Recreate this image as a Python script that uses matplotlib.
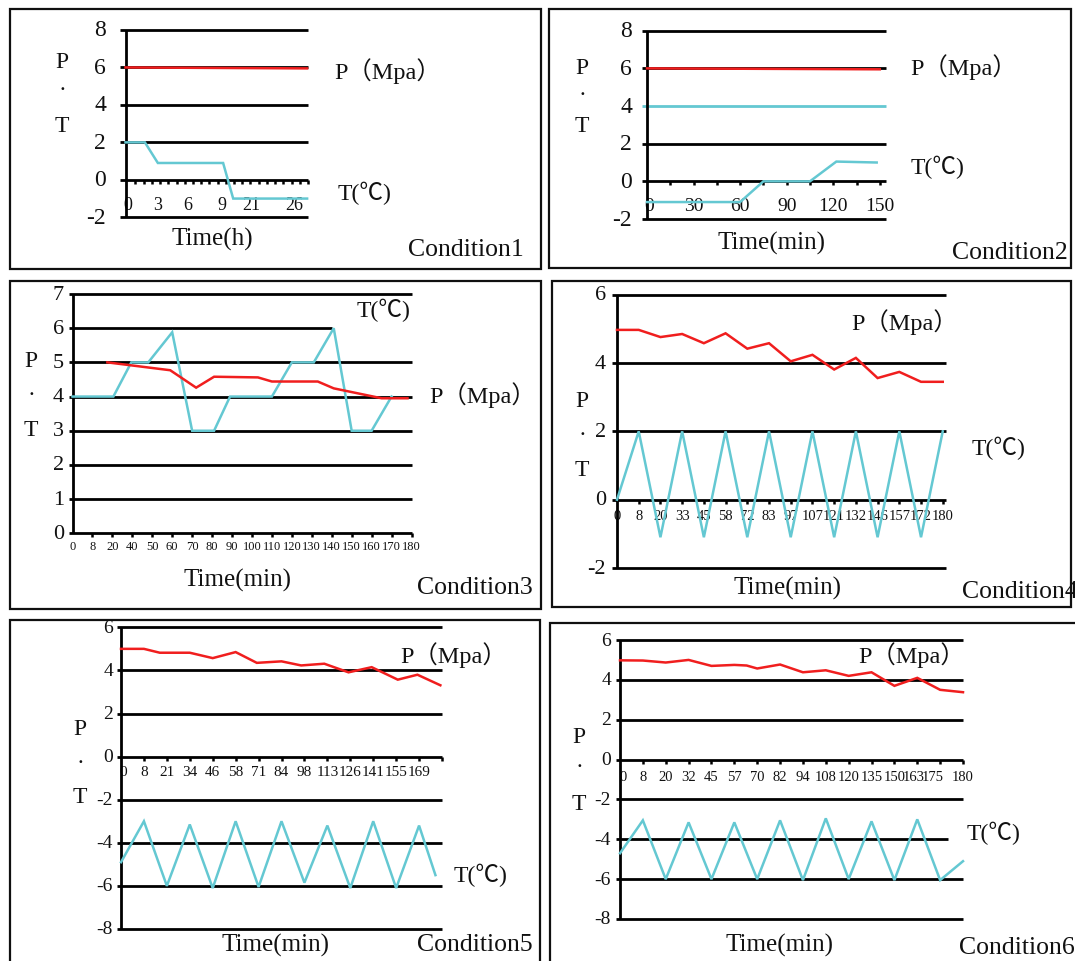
import numpy as np
import matplotlib
matplotlib.use("Agg")
import matplotlib.pyplot as plt
from matplotlib.patches import Rectangle
from matplotlib.transforms import offset_copy

# ---------------- data ----------------
# Condition 1 (time in hours)
c1_ticks = [0, 3, 6, 9, 21, 26]
c1_time_p = [0, 27.4]
c1_p = [6.0, 5.95]
c1_time_t = [0, 1.8, 3, 9.4, 13.5, 27.4]
c1_t = [2.0, 2.0, 0.9, 0.9, -1.0, -1.0]

# Condition 2 (time in minutes)
c2_ticks = [0, 30, 60, 90, 120, 150]
c2_time_p = [0, 150]
c2_p = [6.0, 5.95]
c2_time_t = [0, 60, 75, 105, 122, 148]
c2_t = [-1.1, -1.1, 0.0, 0.0, 1.05, 1.0]

# Condition 3
c3_ticks = [0, 8, 20, 40, 50, 60, 70, 80, 90, 100, 110, 120, 130, 140, 150, 160, 170, 180]
c3_time_t = [0, 21, 39, 48, 60, 70, 81, 89, 110, 120, 131, 141, 150, 160, 170]
c3_t = [4, 4, 5, 5, 5.88, 3, 3, 4, 4, 5, 5, 6, 3, 3, 4]
c3_time_p = [17, 59, 72, 81, 103, 110, 133, 141, 165, 178]
c3_p = [5.0, 4.77, 4.26, 4.58, 4.56, 4.44, 4.44, 4.24, 3.95, 3.95]

# Condition 4
c4_ticks = [0, 8, 20, 33, 45, 58, 72, 83, 97, 107, 121, 132, 146, 157, 172, 180]
c4_time = [0, 8, 20, 33, 45, 58, 72, 83, 97, 107, 121, 132, 146, 157, 172, 180]
c4_t = [0, 2, -1.1, 2, -1.1, 2, -1.1, 2, -1.1, 2, -1.1, 2, -1.1, 2, -1.1, 2]
c4_p = [4.97, 4.97, 4.76, 4.85, 4.58, 4.87, 4.42, 4.58, 4.05, 4.24, 3.81, 4.15, 3.56, 3.74, 3.45, 3.45]

# Condition 5
c5_ticks = [0, 8, 21, 34, 46, 58, 71, 84, 98, 113, 126, 141, 155, 169]
c5_time_t = [0, 8, 21, 34, 46, 58, 71, 84, 98, 113, 126, 141, 155, 169, 179]
c5_t = [-4.9, -3.0, -6.0, -3.15, -6.1, -3.0, -6.05, -3.0, -5.85, -3.2, -6.1, -3.0, -6.1, -3.2, -5.5]
c5_time_p = [0, 8, 17, 34, 46, 58, 70, 84, 96, 111, 125, 140, 156, 168, 182]
c5_p = [5.0, 5.0, 4.82, 4.82, 4.57, 4.85, 4.35, 4.42, 4.23, 4.31, 3.91, 4.15, 3.57, 3.8, 3.31]

# Condition 6
c6_ticks = [0, 8, 20, 32, 45, 57, 70, 82, 94, 108, 120, 135, 150, 163, 175, 180]
c6_time_t = [0, 8, 20, 32, 45, 57, 70, 82, 94, 108, 120, 135, 150, 163, 175, 180]
c6_t = [-4.7, -3.05, -6.0, -3.15, -6.0, -3.15, -6.0, -3.05, -6.05, -2.95, -6.0, -3.1, -6.05, -3.0, -6.05, -5.1]
c6_time_p = [0, 8, 20, 32, 45, 57, 64, 70, 82, 94, 108, 120, 135, 150, 163, 175, 180]
c6_p = [4.98, 4.97, 4.87, 5.0, 4.7, 4.75, 4.72, 4.57, 4.77, 4.38, 4.48, 4.2, 4.38, 3.7, 4.1, 3.5, 3.38]

# ---------------- style ----------------
W, H = 1075, 962
SERIF = ["Liberation Serif", "Noto Sans CJK SC"]
RED = "#f01e1e"
CYAN = "#64c8d2"
INK = "#111111"
GRID_LW = 2.0
LINE_LW = 1.8
LEG_SIZE = 17.5

fig = plt.figure(figsize=(W / 100, H / 100), dpi=100)
fig.patch.set_facecolor("white")


def extrap(x, xp, fp):
    x = np.asarray(x, dtype=float)
    xp = np.asarray(xp, dtype=float)
    fp = np.asarray(fp, dtype=float)
    y = np.interp(x, xp, fp)
    lo_slope = (fp[1] - fp[0]) / (xp[1] - xp[0])
    hi_slope = (fp[-1] - fp[-2]) / (xp[-1] - xp[-2])
    y = np.where(x < xp[0], fp[0] + (x - xp[0]) * lo_slope, y)
    y = np.where(x > xp[-1], fp[-1] + (x - xp[-1]) * hi_slope, y)
    return y


def ftext(x, y, s, size, ha="left", va="center"):
    fig.text(x / W, 1 - y / H, s, fontsize=size, ha=ha, va=va,
             family=SERIF, color=INK)


def box(x0, y0, x1, y1):
    fig.add_artist(Rectangle((x0 / W, 1 - y1 / H), (x1 - x0) / W, (y1 - y0) / H,
                             transform=fig.transFigure, fill=False,
                             ec="#101010", lw=1.6))


def panel(cfg):
    x0, x1 = cfg["x_px"]
    ytop, ybot = cfg["y_px"]
    ymin, ymax = cfg["ylim"]
    ax = fig.add_axes([x0 / W, 1 - ybot / H, (x1 - x0) / W, (ybot - ytop) / H])
    times, slots = cfg["time_map"]
    ax.set_xscale("function",
                  functions=(lambda t: extrap(t, times, slots),
                             lambda s: extrap(s, slots, times)))
    ax.set_xlim(times[0], times[-1])
    ax.set_ylim(ymin, ymax)
    ax.axis("off")
    width_px = x1 - x0
    ppu = (ybot - ytop) / (ymax - ymin)

    # horizontal rules
    stub = -cfg.get("stub", 5) / width_px
    yt = ax.get_yaxis_transform()
    for g in cfg["grid"]:
        end = cfg.get("grid_end", {}).get(g, x1)
        col = cfg.get("grid_color", {}).get(g, "black")
        ax.plot([stub, (end - x0) / width_px], [g, g], transform=yt, color=col,
                lw=GRID_LW, solid_capstyle="butt", clip_on=False, zorder=2)
    # vertical axis
    ax.plot([0, 0], [ymin, ymax], transform=yt, color="black", lw=GRID_LW,
            solid_capstyle="butt", clip_on=False, zorder=3)

    # y tick labels
    ylab_tr = offset_copy(yt, fig=fig, x=-cfg["ylab_gap"], y=0, units="dots")
    for g in cfg["grid"]:
        ax.text(0, g, f"{g:g}", transform=ylab_tr, ha="right", va="center",
                fontsize=cfg["ylab_size"], family=SERIF, color=INK)

    # tick marks along the zero line
    tl = 4.0 / ppu
    ax.vlines(cfg["marks"], -tl, 0, color="black", lw=1.8, clip_on=False, zorder=3)

    # x tick labels
    shifts = cfg.get("lab_shift", {})
    for lab in cfg["ticks"]:
        tr = offset_copy(ax.transData, fig=fig, x=shifts.get(lab, 0),
                         y=-cfg["xlab_dy"], units="dots")
        ax.text(lab, 0, str(lab), transform=tr, ha="center", va="center",
                fontsize=cfg["xlab_size"], family=SERIF, color=INK, zorder=1)

    # series
    for tt, vv, col in cfg["series"]:
        ax.plot(tt, vv, color=col, lw=LINE_LW, clip_on=False, zorder=4,
                solid_joinstyle="miter")
    return ax


# ---------------- panel 1 ----------------
box(10, 10, 541, 270)
c1_map = ([0, 3, 6, 9, 21, 26, 27.5], [0, 3.9, 7.5, 11.65, 15.2, 20.4, 22])
panel(dict(
    x_px=(125.5, 308), y_px=(31, 218.3), ylim=(-2, 8),
    time_map=c1_map, grid=[8, 6, 4, 2, 0, -2], stub=6,
    marks=list(extrap(np.linspace(1.2, 22, 22), c1_map[1], c1_map[0])),
    ticks=c1_ticks, lab_shift={0: 2}, xlab_dy=25, xlab_size=13,
    ylab_gap=19.5, ylab_size=17,
    series=[(c1_time_p, c1_p, RED), (c1_time_t, c1_t, CYAN)],
))
ftext(62, 62.5, "P", 17, ha="center")
ftext(62, 95, ".", 17, ha="center", va="bottom")
ftext(62, 126, "T", 17, ha="center")
ftext(334, 71, "P（Mpa）", LEG_SIZE)
ftext(338, 193, "T(℃)", 17)
ftext(212.7, 239, "Time(h)", 18, ha="center")
ftext(408, 250, "Condition1", 18.5)

# ---------------- panel 2 ----------------
box(549, 10, 1071, 269)
panel(dict(
    x_px=(647, 886), y_px=(31.7, 220), ylim=(-2, 8),
    time_map=([0, 154], [0, 154]), grid=[8, 6, 4, 2, 0, -2], stub=5,
    grid_color={4: CYAN},
    marks=list(range(15, 151, 15)),
    ticks=c2_ticks, lab_shift={0: 2}, xlab_dy=24, xlab_size=14,
    ylab_gap=15, ylab_size=17,
    series=[(c2_time_p, c2_p, RED), (c2_time_t, c2_t, CYAN)],
))
ftext(582, 68, "P", 17, ha="center")
ftext(582, 100, ".", 17, ha="center", va="bottom")
ftext(582, 127, "T", 17, ha="center")
ftext(910, 67, "P（Mpa）", LEG_SIZE)
ftext(911, 167, "T(℃)", 17)
ftext(772, 243, "Time(min)", 18, ha="center")
ftext(952, 253, "Condition2", 18.5)

# ---------------- panel 3 ----------------
box(10, 282, 541, 610)
panel(dict(
    x_px=(72.5, 411.5), y_px=(295, 534.3), ylim=(0, 7),
    time_map=(c3_ticks, list(range(len(c3_ticks)))),
    grid=[7, 6, 5, 4, 3, 2, 1, 0], stub=4, grid_end={6: 331.5},
    marks=c3_ticks[1:],
    ticks=c3_ticks, xlab_dy=13, xlab_size=9,
    ylab_gap=8.5, ylab_size=16,
    series=[(c3_time_t, c3_t, CYAN), (c3_time_p, c3_p, RED)],
))
ftext(31, 362, "P", 17, ha="center")
ftext(31, 400, ".", 17, ha="center", va="bottom")
ftext(31, 430, "T", 17, ha="center")
ftext(357, 310, "T(℃)", 17)
ftext(429, 395, "P（Mpa）", LEG_SIZE)
ftext(238, 580, "Time(min)", 18, ha="center")
ftext(417, 588, "Condition3", 18.5)

# ---------------- panel 4 ----------------
box(552, 282, 1071, 608)
panel(dict(
    x_px=(617, 946), y_px=(295.7, 569), ylim=(-2, 6),
    time_map=(c4_ticks + [182], list(range(len(c4_ticks))) + [15.15]),
    grid=[6, 4, 2, 0, -2], stub=5,
    marks=c4_ticks[1:],
    ticks=c4_ticks, xlab_dy=16, xlab_size=10.5,
    ylab_gap=11, ylab_size=16,
    series=[(c4_time, c4_p, RED), (c4_time, c4_t, CYAN)],
))
ftext(582, 402, "P", 17, ha="center")
ftext(582, 440, ".", 17, ha="center", va="bottom")
ftext(582, 470, "T", 17, ha="center")
ftext(851, 322, "P（Mpa）", LEG_SIZE)
ftext(972, 448, "T(℃)", 17)
ftext(787, 588, "Time(min)", 18, ha="center")
ftext(962, 592, "Condition4", 18.5)

# ---------------- panel 5 ----------------
box(10, 621, 540, 1000)
panel(dict(
    x_px=(121, 442), y_px=(628.3, 930), ylim=(-8, 6),
    time_map=(c5_ticks + [183], list(range(len(c5_ticks) + 1))),
    grid=[6, 4, 2, 0, -2, -4, -6, -8], stub=4,
    marks=c5_ticks[1:] + [183],
    ticks=c5_ticks, lab_shift={0: 2}, xlab_dy=14.5, xlab_size=11,
    ylab_gap=8, ylab_size=14,
    series=[(c5_time_p, c5_p, RED), (c5_time_t, c5_t, CYAN)],
))
ftext(80, 730, "P", 17, ha="center")
ftext(80, 768, ".", 17, ha="center", va="bottom")
ftext(80, 798, "T", 17, ha="center")
ftext(400, 655, "P（Mpa）", LEG_SIZE)
ftext(454, 875, "T(℃)", 17)
ftext(275, 945, "Time(min)", 18, ha="center")
ftext(417, 945, "Condition5", 18.5)

# ---------------- panel 6 ----------------
box(550, 624, 1100, 1000)
panel(dict(
    x_px=(620, 963), y_px=(641, 920), ylim=(-8, 6),
    time_map=(c6_ticks, list(range(len(c6_ticks)))),
    grid=[6, 4, 2, 0, -2, -4, -6, -8], stub=4, grid_end={-4: 948},
    marks=c6_ticks[1:],
    ticks=c6_ticks, lab_shift={0: 3, 163: -4, 175: -7}, xlab_dy=16.5, xlab_size=10.5,
    ylab_gap=9, ylab_size=14,
    series=[(c6_time_p, c6_p, RED), (c6_time_t, c6_t, CYAN)],
))
ftext(579, 738, "P", 17, ha="center")
ftext(579, 772, ".", 17, ha="center", va="bottom")
ftext(579, 805, "T", 17, ha="center")
ftext(858, 655, "P（Mpa）", LEG_SIZE)
ftext(967, 833, "T(℃)", 17)
ftext(780, 945, "Time(min)", 18, ha="center")
ftext(959, 948, "Condition6", 18.5)

fig.savefig("out.png", dpi=100, facecolor="white")
